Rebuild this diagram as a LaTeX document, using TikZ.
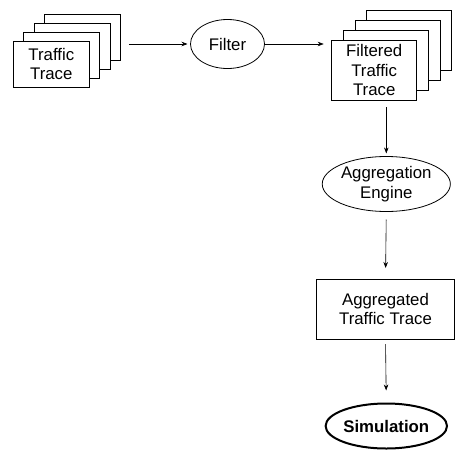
\documentclass[tikz,border=0pt]{standalone}
\usepackage{fontspec}
\setmainfont{Liberation Sans}
\usetikzlibrary{shapes.geometric,arrows.meta}
\begin{document}
\begin{tikzpicture}[x=1pt,y=-1pt,
  every node/.style={inner sep=0pt,outer sep=0pt,align=center,
    font=\fontsize{16.8}{19.5}\selectfont},
  sheet/.style 2 args={draw,fill=white,line width=0.8pt,rectangle,
    minimum width=#1,minimum height=#2},
  oval/.style 2 args={draw,line width=0.8pt,ellipse,
    minimum width=#1,minimum height=#2},
  arrow/.style={line width=0.6pt,-{Stealth[length=6pt,width=4.5pt]}}]
\useasboundingbox (0,0) rectangle (455,450);

% input trace: stack of sheets, back to front
\node[sheet={76pt}{46pt}] (lt4) at (82.8,37.4) {};
\node[sheet={76pt}{46pt}] (lt3) at (72.3,46.3) {};
\node[sheet={76pt}{46pt}] (lt2) at (61.8,55.2) {};
\node[sheet={76pt}{46pt}] (lt1) at (51.3,64.2) {Traffic\\Trace};

% filter stage
\node[oval={74pt}{49pt}] (filter) at (227.5,44) {Filter};

% filtered trace: stack of sheets, back to front
\node[sheet={85pt}{60pt}] (rt4) at (409.2,40) {};
\node[sheet={85pt}{60pt}] (rt3) at (397.6,50) {};
\node[sheet={85pt}{60pt}] (rt2) at (385.9,60) {};
\node[sheet={85pt}{60pt}] (rt1) at (374.2,70) {Filtered\\Traffic\\Trace};

% aggregation and simulation
\node[oval={124pt}{55pt}] (agg) at (386.3,184) {Aggregation\\Engine};
\node[sheet={138pt}{60pt}] (aggtrace) at (385.5,309) {Aggregated\\Traffic Trace};
\node[oval={114pt}{45pt},line width=2pt,font=\fontsize{16.8}{19.5}\selectfont\bfseries]
  (sim) at (386.3,426) {Simulation};

% connectors
\draw[arrow,shorten >=3pt] ([xshift=8pt]lt4.east |- filter.west) -- (filter.west);
\draw[arrow] (filter.east) -- ([xshift=-8pt]rt1.north west |- filter.east);
\draw[arrow,shorten <=7pt,shorten >=3pt] (agg.north |- rt1.south) -- (agg.north);
\draw[arrow,shorten <=8pt,shorten >=11pt] (agg.south) -- (aggtrace.north);
\draw[arrow,shorten <=5pt,shorten >=13pt] (aggtrace.south) -- (sim.north);
\end{tikzpicture}
\end{document}
